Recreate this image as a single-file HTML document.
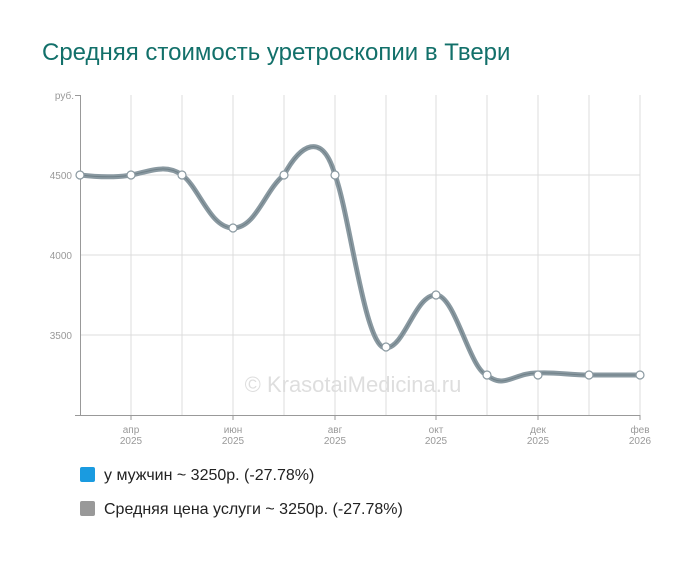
<!DOCTYPE html>
<html><head><meta charset="utf-8"><style>
body{margin:0;background:#fff;width:700px;height:558px;overflow:hidden;font-family:"Liberation Sans",sans-serif}
</style></head><body>
<svg width="700" height="558" viewBox="0 0 700 558" xmlns="http://www.w3.org/2000/svg" font-family="Liberation Sans, sans-serif">
<text x="42" y="60" font-size="24" fill="#12706a">Средняя стоимость уретроскопии в Твери</text>
<g stroke="#dcdcdc" stroke-width="1">
<line x1="131" y1="95" x2="131" y2="415"/><line x1="182" y1="95" x2="182" y2="415"/><line x1="233" y1="95" x2="233" y2="415"/><line x1="284" y1="95" x2="284" y2="415"/><line x1="335" y1="95" x2="335" y2="415"/><line x1="386" y1="95" x2="386" y2="415"/><line x1="436" y1="95" x2="436" y2="415"/><line x1="487" y1="95" x2="487" y2="415"/><line x1="538" y1="95" x2="538" y2="415"/><line x1="589" y1="95" x2="589" y2="415"/><line x1="640" y1="95" x2="640" y2="415"/>
<line x1="80" y1="175" x2="640" y2="175"/><line x1="80" y1="255" x2="640" y2="255"/><line x1="80" y1="335" x2="640" y2="335"/>
</g>
<g stroke="#999" stroke-width="1">
<line x1="80.5" y1="95" x2="80.5" y2="415"/><line x1="75" y1="95.5" x2="80" y2="95.5"/>
<line x1="75" y1="415.5" x2="640" y2="415.5"/>
<line x1="131" y1="415" x2="131" y2="420"/><line x1="233" y1="415" x2="233" y2="420"/><line x1="335" y1="415" x2="335" y2="420"/><line x1="436" y1="415" x2="436" y2="420"/><line x1="538" y1="415" x2="538" y2="420"/><line x1="640" y1="415" x2="640" y2="420"/>
</g>
<g font-size="10" fill="#999" text-anchor="end">
<text x="74" y="99">руб.</text><text x="72" y="179">4500</text><text x="72" y="259">4000</text><text x="72" y="339">3500</text>
</g>
<g font-size="10" fill="#999" text-anchor="middle">
<text x="131" y="433">апр</text><text x="131" y="444">2025</text>
<text x="233" y="433">июн</text><text x="233" y="444">2025</text>
<text x="335" y="433">авг</text><text x="335" y="444">2025</text>
<text x="436" y="433">окт</text><text x="436" y="444">2025</text>
<text x="538" y="433">дек</text><text x="538" y="444">2025</text>
<text x="640" y="433">фев</text><text x="640" y="444">2026</text>
</g>
<text x="353" y="392" font-size="22" fill="#dedede" text-anchor="middle">© KrasotaiMedicina.ru</text>
<path d="M80,175 C97,177 114,178 131,175 C148,172 165,163 182,175 C199,187 210,228 233,228 C256,228 265,190 284,175 C300,145 322,130 335,175 C350,215 365,350 386,348 C405,347 415,295 436,295 C455,295 470,370 487,375 C504,390 515,372 538,373 C555,372 570,375 589,375 C605,375 620,375 640,375" fill="none" stroke="#8a99a1" stroke-width="5"/>
<path d="M80,175 C97,177 114,178 131,175 C148,172 165,163 182,175 C199,187 210,228 233,228 C256,228 265,190 284,175 C300,145 322,130 335,175 C350,215 365,350 386,348 C405,347 415,295 436,295 C455,295 470,370 487,375 C504,390 515,372 538,373 C555,372 570,375 589,375 C605,375 620,375 640,375" fill="none" stroke="#6f8088" stroke-width="1"/>
<g fill="#fff" stroke="#8a99a1" stroke-width="1.2">
<circle cx="80" cy="175" r="4"/><circle cx="131" cy="175" r="4"/><circle cx="182" cy="175" r="4"/><circle cx="233" cy="228" r="4"/><circle cx="284" cy="175" r="4"/><circle cx="335" cy="175" r="4"/><circle cx="386" cy="347" r="4"/><circle cx="436" cy="295" r="4"/><circle cx="487" cy="375" r="4"/><circle cx="538" cy="375" r="4"/><circle cx="589" cy="375" r="4"/><circle cx="640" cy="375" r="4"/>
</g>
<rect x="80" y="467" width="15" height="15" rx="2" fill="#1a9be0"/>
<text x="104" y="480" font-size="16" fill="#222">у мужчин ~ 3250р. (-27.78%)</text>
<rect x="80" y="501" width="15" height="15" rx="2" fill="#999"/>
<text x="104" y="514" font-size="16" fill="#222">Средняя цена услуги ~ 3250р. (-27.78%)</text>
</svg>
</body></html>
